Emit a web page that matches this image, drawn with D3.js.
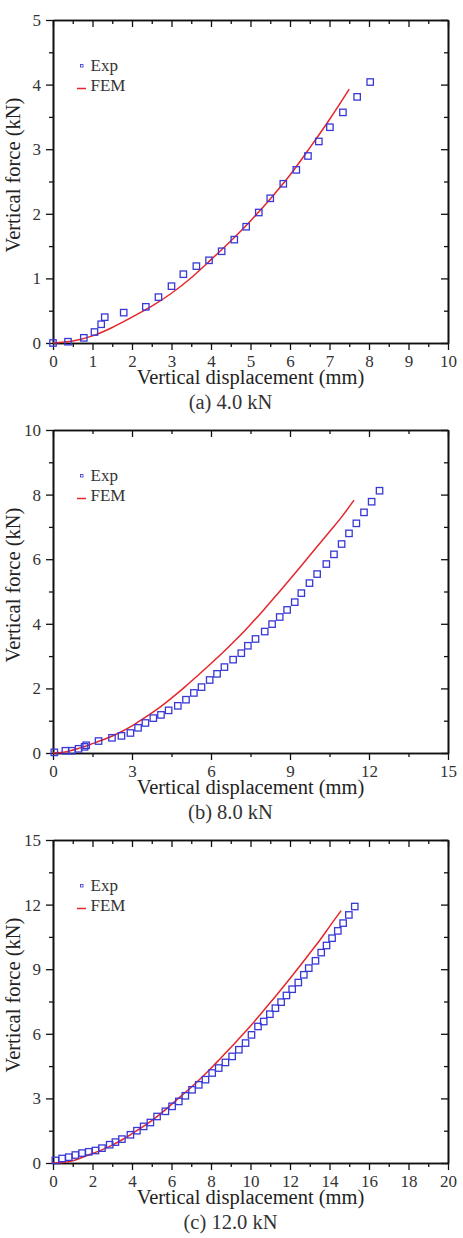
<!DOCTYPE html>
<html><head><meta charset="utf-8">
<script src="https://cdn.jsdelivr.net/npm/d3@7/dist/d3.min.js"></script>
<style>
html,body{margin:0;padding:0;background:#fff;}
svg{display:block;}
text{font-family:"Liberation Serif","Times New Roman",serif;}
</style>
</head><body>
<svg id="chart" width="463" height="1238"></svg>
<script>
// ---------- data ----------
const captions = ["(a) 4.0 kN", "(b) 8.0 kN", "(c) 12.0 kN"];
const xMax = [10, 15, 20];
const yMax = [5, 10, 15];
const xMajorStep = [1, 3, 2];
const yMajorStep = [1, 2, 3];
const legendLabels = ["Exp", "FEM"];

const expA = [[0,0],[0.38,0.02],[0.78,0.08],[1.05,0.17],[1.22,0.29],[1.31,0.4],[1.79,0.47],[2.35,0.56],[2.67,0.71],[3.0,0.88],[3.3,1.065],[3.63,1.19],[3.95,1.28],[4.27,1.42],[4.59,1.6],[4.89,1.8],[5.21,2.02],[5.5,2.24],[5.83,2.465],[6.16,2.68],[6.455,2.895],[6.73,3.12],[7.01,3.34],[7.34,3.57],[7.7,3.81],[8.03,4.04]];
const femA = [[0,0],[0.5,0.03],[1,0.11],[1.5,0.24],[2,0.4],[2.5,0.57],[3,0.77],[3.5,1.01],[4,1.29],[4.5,1.58],[5,1.89],[5.5,2.23],[6,2.6],[6.5,3.02],[7,3.46],[7.5,3.93]];

const expB = [[0.05,0.02],[0.47,0.07],[0.72,0.07],[0.97,0.13],[1.2,0.19],[1.26,0.24],[1.73,0.37],[2.24,0.47],[2.6,0.53],[2.94,0.62],[3.23,0.78],[3.51,0.93],[3.81,1.08],[4.1,1.18],[4.39,1.32],[4.74,1.46],[5.05,1.65],[5.35,1.86],[5.64,2.04],[5.95,2.26],[6.23,2.45],[6.51,2.66],[6.84,2.89],[7.15,3.09],[7.4,3.32],[7.69,3.53],[8.04,3.76],[8.32,3.99],[8.61,4.21],[8.89,4.43],[9.18,4.67],[9.43,4.95],[9.74,5.26],[10.03,5.54],[10.38,5.85],[10.67,6.15],[10.96,6.47],[11.24,6.8],[11.52,7.11],[11.81,7.45],[12.1,7.78],[12.4,8.12]];
const femB = [[0,0],[0.5,0.04],[1,0.15],[1.5,0.29],[2,0.44],[2.5,0.62],[3,0.84],[3.5,1.1],[4,1.38],[4.5,1.7],[5,2.04],[5.5,2.4],[6,2.77],[6.5,3.15],[7,3.55],[7.5,3.98],[8,4.43],[8.5,4.9],[9,5.38],[9.5,5.87],[10,6.36],[10.5,6.85],[11,7.35],[11.43,7.83]];

const expC = [[0.12,0.12],[0.46,0.21],[0.8,0.27],[1.13,0.37],[1.47,0.46],[1.81,0.52],[2.15,0.58],[2.48,0.69],[2.87,0.85],[3.16,0.97],[3.49,1.11],[3.92,1.31],[4.25,1.5],[4.59,1.7],[4.93,1.88],[5.27,2.16],[5.69,2.4],[6.03,2.63],[6.37,2.86],[6.7,3.12],[7.04,3.4],[7.38,3.63],[7.72,3.87],[8.06,4.18],[8.39,4.41],[8.73,4.67],[9.07,4.95],[9.41,5.26],[9.75,5.57],[10.05,5.95],[10.38,6.34],[10.67,6.57],[10.98,6.91],[11.26,7.19],[11.55,7.47],[11.82,7.78],[12.11,8.07],[12.42,8.38],[12.7,8.74],[12.95,9.05],[13.29,9.39],[13.58,9.77],[13.85,10.1],[14.13,10.44],[14.42,10.78],[14.69,11.14],[14.98,11.52],[15.28,11.91]];
const femC = [[0,0],[0.5,0.02],[1,0.1],[1.5,0.27],[2,0.44],[2.5,0.62],[3,0.83],[3.5,1.08],[4,1.36],[4.5,1.65],[5,1.97],[5.5,2.33],[6,2.72],[6.5,3.12],[7,3.52],[7.5,3.95],[8,4.4],[8.5,4.88],[9,5.36],[9.5,5.86],[10,6.36],[10.5,6.9],[11,7.45],[11.5,8.0],[12,8.57],[12.5,9.15],[13,9.74],[13.5,10.33],[14,10.98],[14.59,11.72]];

const expSets = [expA, expB, expC];
const femSets = [femA, femB, femC];

// ---------- layout ----------
const svg = d3.select("#chart");
const left = 53, right = 448;
const tops = [20, 430, 840];
const plotH = 323;
const blue = "#3838d6", red = "#e5262b";

function range(a, b, s) { const r = []; for (let v = a; v <= b + 1e-9; v += s) r.push(+v.toFixed(4)); return r; }

tops.forEach((top, i) => {
  const bottom = top + plotH;
  const x = d3.scaleLinear().domain([0, xMax[i]]).range([left, right]);
  const y = d3.scaleLinear().domain([0, yMax[i]]).range([bottom, top]);
  const g = svg.append("g");

  const xMaj = range(0, xMax[i], xMajorStep[i]);
  const xMin = range(xMajorStep[i] / 2, xMax[i], xMajorStep[i]);
  const yMaj = range(0, yMax[i], yMajorStep[i]);
  const yMin = range(yMajorStep[i] / 2, yMax[i], yMajorStep[i]);

  const styleAxis = sel => {
    sel.selectAll("path.domain").attr("stroke", "#111").attr("stroke-width", 1.6);
    sel.selectAll(".tick line").attr("stroke", "#111").attr("stroke-width", 1.3);
    sel.selectAll(".tick text").attr("font-family", "Liberation Serif, serif").attr("font-size", 17).attr("fill", "#333");
  };

  // bottom
  g.append("g").attr("transform", `translate(0,${bottom})`)
    .call(d3.axisBottom(x).tickValues(xMin).tickFormat("").tickSize(4).tickSizeOuter(0)).call(styleAxis);
  const bx = g.append("g").attr("transform", `translate(0,${bottom})`)
    .call(d3.axisBottom(x).tickValues(xMaj).tickFormat(d3.format("d")).tickSize(7).tickSizeOuter(0).tickPadding(5)).call(styleAxis);
  bx.selectAll(".tick text").attr("dy", null).attr("y", 24).attr("dominant-baseline", "auto");
  // top (inward)
  g.append("g").attr("transform", `translate(0,${top})`)
    .call(d3.axisTop(x).tickValues(xMin).tickFormat("").tickSize(-4).tickSizeOuter(0)).call(styleAxis);
  g.append("g").attr("transform", `translate(0,${top})`)
    .call(d3.axisTop(x).tickValues(xMaj).tickFormat("").tickSize(-7).tickSizeOuter(0)).call(styleAxis);
  // left
  g.append("g").attr("transform", `translate(${left},0)`)
    .call(d3.axisLeft(y).tickValues(yMin).tickFormat("").tickSize(4).tickSizeOuter(0)).call(styleAxis);
  const ly = g.append("g").attr("transform", `translate(${left},0)`)
    .call(d3.axisLeft(y).tickValues(yMaj).tickFormat(d3.format("d")).tickSize(7).tickSizeOuter(0).tickPadding(5)).call(styleAxis);
  ly.selectAll(".tick text").attr("x", -12);
  // right (inward)
  g.append("g").attr("transform", `translate(${right},0)`)
    .call(d3.axisRight(y).tickValues(yMin).tickFormat("").tickSize(-4).tickSizeOuter(0)).call(styleAxis);
  g.append("g").attr("transform", `translate(${right},0)`)
    .call(d3.axisRight(y).tickValues(yMaj).tickFormat("").tickSize(-7).tickSizeOuter(0)).call(styleAxis);

  // FEM line
  const line = d3.line().x(d => x(d[0])).y(d => y(d[1])).curve(d3.curveMonotoneX);
  g.append("path").datum(femSets[i]).attr("d", line)
    .attr("fill", "none").attr("stroke", red).attr("stroke-width", 1.5);

  // Exp markers
  const s = 6.4;
  g.selectAll("rect.exp").data(expSets[i]).enter().append("rect")
    .attr("class", "exp")
    .attr("x", d => x(d[0]) - s / 2).attr("y", d => y(d[1]) - s / 2)
    .attr("width", s).attr("height", s)
    .attr("fill", "none").attr("stroke", blue).attr("stroke-width", 1.3);

  // legend
  g.append("rect").attr("x", 80.5).attr("y", top + 44.5).attr("width", 2.5).attr("height", 2.5)
    .attr("fill", "none").attr("stroke", blue).attr("stroke-width", 0.8);
  g.append("text").attr("x", 90.5).attr("y", top + 51).attr("font-size", 17).attr("fill", "#333").text(legendLabels[0]);
  g.append("line").attr("x1", 77).attr("x2", 86).attr("y1", top + 68.5).attr("y2", top + 68.5)
    .attr("stroke", red).attr("stroke-width", 1.5);
  g.append("text").attr("x", 90.5).attr("y", top + 70.5).attr("font-size", 17).attr("fill", "#333").text(legendLabels[1]);

  // axis titles
  g.append("text").attr("x", (left + right) / 2).attr("y", bottom + 41)
    .attr("text-anchor", "middle").attr("font-size", 20.5).attr("fill", "#222")
    .text("Vertical displacement (mm)");
  g.append("text").attr("transform", `translate(20,${top + 155}) rotate(-90)`)
    .attr("text-anchor", "middle").attr("font-size", 20.5).attr("fill", "#222")
    .text("Vertical force (kN)");
  // caption
  g.append("text").attr("x", (left + right) / 2 - 20).attr("y", bottom + 66)
    .attr("text-anchor", "middle").attr("font-size", 20.5).attr("fill", "#333")
    .text(captions[i]);
});
</script>
</body></html>
